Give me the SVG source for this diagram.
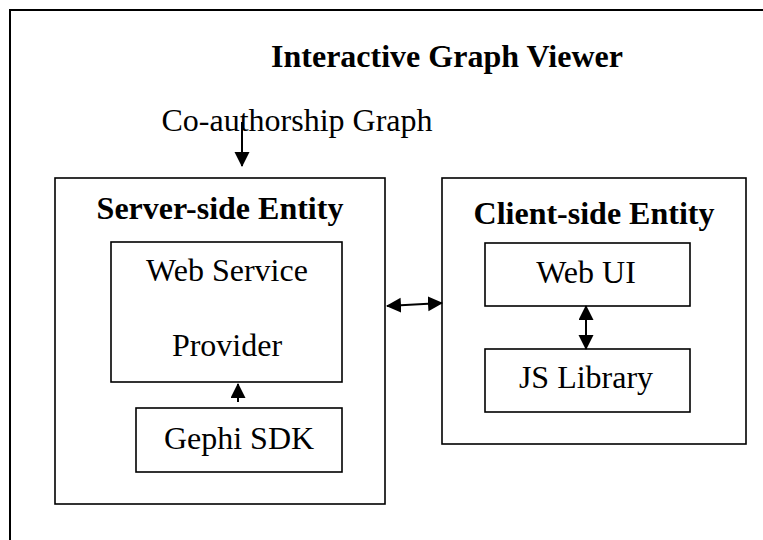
<svg xmlns="http://www.w3.org/2000/svg" width="763" height="540" viewBox="0 0 763 540">
<defs>
<style>
.box{fill:none;stroke:#000;stroke-width:1.6}
.frame{fill:none;stroke:#000;stroke-width:2}
.t{font-family:"Liberation Serif","Times New Roman",serif;font-size:32px;fill:#000}
.b{font-weight:bold}
.c{stroke:#000;stroke-width:2;fill:none}
</style>
<marker id="ah" markerUnits="userSpaceOnUse" markerWidth="16" markerHeight="16" refX="14" refY="7.5" orient="auto-start-reverse">
<path d="M0,0 L15,7.5 L0,15 z" fill="#000"/>
</marker>
</defs>
<rect width="763" height="540" fill="#fff"/>
<g id="viewer">
<path class="frame" d="M10,545 L10,10 L770,10"/>
<text class="t b" x="447" y="67" text-anchor="middle">Interactive Graph Viewer</text>
</g>
<g id="input">
<text class="t" x="297" y="131" text-anchor="middle">Co-authorship Graph</text>
</g>
<g id="server">
<rect class="box" x="55" y="178" width="330" height="326"/>
<text class="t b" x="220" y="219" text-anchor="middle">Server-side Entity</text>
</g>
<g id="wsp">
<rect class="box" x="111" y="242" width="231" height="140"/>
<text class="t" x="227" y="281" text-anchor="middle">Web Service</text>
<text class="t" x="227" y="356" text-anchor="middle">Provider</text>
</g>
<g id="gephi">
<rect class="box" x="136" y="408" width="206" height="64"/>
<text class="t" x="239" y="449" text-anchor="middle">Gephi SDK</text>
</g>
<g id="client">
<rect class="box" x="442" y="178" width="304" height="266"/>
<text class="t b" x="594" y="224" text-anchor="middle">Client-side Entity</text>
</g>
<g id="webui">
<rect class="box" x="485" y="243" width="205" height="63"/>
<text class="t" x="586" y="283" text-anchor="middle">Web UI</text>
</g>
<g id="jslib">
<rect class="box" x="485" y="349" width="205" height="63"/>
<text class="t" x="586" y="388" text-anchor="middle">JS Library</text>
</g>
<g id="connectors">
<line class="c" x1="242" y1="122" x2="242" y2="166" marker-end="url(#ah)"/>
<line class="c" x1="387" y1="306" x2="442" y2="303" marker-start="url(#ah)" marker-end="url(#ah)"/>
<line class="c" x1="586" y1="306" x2="586" y2="349" marker-start="url(#ah)" marker-end="url(#ah)"/>
<line class="c" x1="238" y1="402" x2="238" y2="384" marker-end="url(#ah)"/>
</g>
</svg>
